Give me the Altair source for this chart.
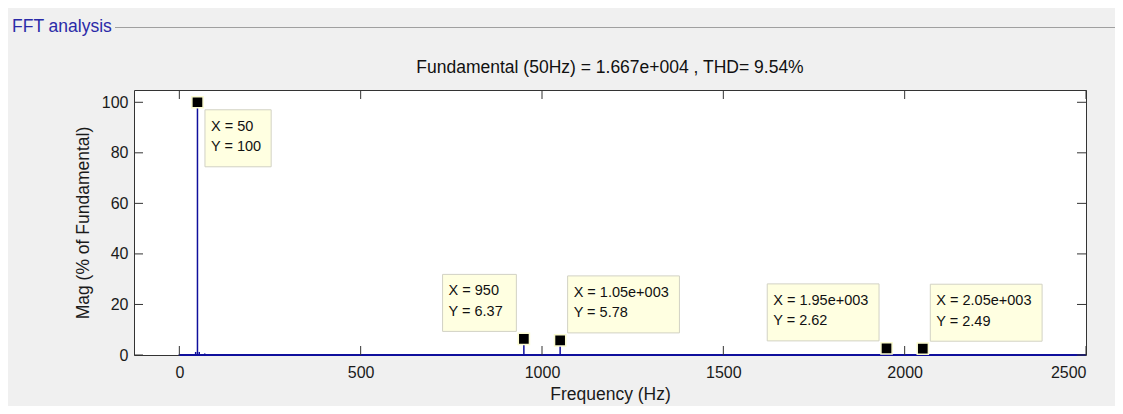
import altair as alt
import pandas as pd

# ---------------- data ----------------
freqs = [0, 45, 50, 55, 70, 950, 1050, 1950, 2050]
mags = [0.3, 1.2, 100, 1.2, 0.6, 6.37, 5.78, 2.62, 2.49]
baseline_start = [0]
baseline_end = [2500]

tip_freq = [50, 950, 1050, 1950, 2050]
tip_mag = [100, 6.37, 5.78, 2.62, 2.49]
tip_xlabel = ["50", "950", "1.05e+003", "1.95e+003", "2.05e+003"]
tip_ylabel = ["100", "6.37", "5.78", "2.62", "2.49"]
tip_side = ["right-below", "left-above", "right-above", "left-above", "right-above"]

x_ticks = [0, 500, 1000, 1500, 2000, 2500]
y_ticks = [0, 20, 40, 60, 80, 100]
x_domain = [-125, 2500]
y_domain = [0, 104.86]

title_text = "Fundamental (50Hz) = 1.667e+004 , THD= 9.54%"
panel_text = "FFT analysis"

# ---------------- layout / style ----------------
W, H = 952, 265
FONT = "Liberation Sans"
BLUE = "#0f0f9c"
TICK = 9

xs = alt.Scale(domain=x_domain, nice=False, zero=False)
ys = alt.Scale(domain=y_domain, nice=False, zero=False)

spec_df = pd.DataFrame({"freq": freqs, "mag": mags})
base_df = pd.DataFrame({"f0": baseline_start, "f1": baseline_end})
xt_df = pd.DataFrame({"t": x_ticks})
yt_df = pd.DataFrame({"t": y_ticks})

x_axis = alt.Axis(values=x_ticks, format="d", ticks=False, tickSize=0, domain=False, grid=False,
                  labelFont=FONT, labelFontSize=16, labelColor="#1a1a1a", labelPadding=9,
                  title="Frequency (Hz)", titleFont=FONT, titleFontSize=17.5,
                  titleFontWeight="normal", titleColor="#1a1a1a", titlePadding=5)
y_axis = alt.Axis(values=y_ticks, format="d", ticks=False, tickSize=0, domain=False, grid=False,
                  labelFont=FONT, labelFontSize=16, labelColor="#1a1a1a", labelPadding=6,
                  title="Mag (% of Fundamental)", titleFont=FONT, titleFontSize=17.5,
                  titleFontWeight="normal", titleColor="#1a1a1a", titlePadding=9)

spikes = alt.Chart(spec_df).mark_rule(color=BLUE, strokeWidth=1.5).encode(
    x=alt.X("freq:Q", scale=xs, axis=x_axis),
    y=alt.Y("mag:Q", scale=ys, axis=y_axis),
    y2=alt.datum(0),
)

baseline = alt.Chart(base_df).mark_rule(color=BLUE, strokeWidth=2).encode(
    x=alt.X("f0:Q", scale=xs),
    x2="f1:Q",
    y=alt.datum(0),
)

tick_color = "#333333"
bottom_ticks = alt.Chart(xt_df).mark_rule(color=tick_color, strokeWidth=1).encode(
    x=alt.X("t:Q", scale=xs), y=alt.value(H), y2=alt.value(H - TICK))
top_ticks = alt.Chart(xt_df).mark_rule(color=tick_color, strokeWidth=1).encode(
    x=alt.X("t:Q", scale=xs), y=alt.value(0), y2=alt.value(TICK))
left_ticks = alt.Chart(yt_df).mark_rule(color=tick_color, strokeWidth=1).encode(
    y=alt.Y("t:Q", scale=ys), x=alt.value(0), x2=alt.value(TICK))
right_ticks = alt.Chart(yt_df).mark_rule(color=tick_color, strokeWidth=1).encode(
    y=alt.Y("t:Q", scale=ys), x=alt.value(W - TICK), x2=alt.value(W))

layers = [spikes, baseline, bottom_ticks, top_ticks, left_ticks, right_ticks]

# data tips
BOX_H = 57
GAP = 7.5
for f, m, xl, yl, side in zip(tip_freq, tip_mag, tip_xlabel, tip_ylabel, tip_side):
    l1 = "X = " + xl
    l2 = "Y = " + yl
    bw = 13 + 7.6 * max(len(l1), len(l2))
    if side.startswith("right"):
        x0, x1 = GAP, GAP + bw
    else:
        x0, x1 = -GAP - bw, -GAP
    if side.endswith("below"):
        y0, y1 = GAP, GAP + BOX_H
    else:
        y0, y1 = -GAP - BOX_H, -GAP
    df = pd.DataFrame({"freq": [f], "mag": [m], "label": [l1 + "\n" + l2]})
    box = alt.Chart(df).mark_rect(
        fill="#ffffe1", stroke="#d2d2c4", strokeWidth=1,
        xOffset=x0, x2Offset=x1, yOffset=y0, y2Offset=y1,
    ).encode(
        x=alt.X("freq:Q", scale=xs), x2="freq:Q",
        y=alt.Y("mag:Q", scale=ys), y2="mag:Q",
    )
    txt = alt.Chart(df).mark_text(
        align="left", baseline="top", font=FONT, fontSize=14.5, color="#111111",
        lineBreak="\n", lineHeight=20.5, dx=x0 + 6, dy=y0 + 10,
    ).encode(
        x=alt.X("freq:Q", scale=xs), y=alt.Y("mag:Q", scale=ys), text="label:N",
    )
    layers += [box, txt]

tip_df = pd.DataFrame({"freq": tip_freq, "mag": tip_mag})
markers = alt.Chart(tip_df).mark_square(
    size=125, color="black", filled=True, opacity=1, stroke="#fbfbd0", strokeWidth=1.5
).encode(x=alt.X("freq:Q", scale=xs), y=alt.Y("mag:Q", scale=ys))
layers.append(markers)

# title and panel header
title = alt.Chart(pd.DataFrame({"t": [title_text]})).mark_text(
    align="center", baseline="middle", font=FONT, fontSize=17.5, color="#111111"
).encode(x=alt.value(W / 2), y=alt.value(-22), text="t:N")

panel_label = alt.Chart(pd.DataFrame({"t": [panel_text]})).mark_text(
    align="left", baseline="middle", font=FONT, fontSize=17.5, color="#2a2aa8"
).encode(x=alt.value(-122), y=alt.value(-63), text="t:N")

panel_line = alt.Chart(pd.DataFrame({"t": [panel_text]})).mark_rule(
    color="#a0a0a0", strokeWidth=1
).encode(x=alt.value(-19), x2=alt.value(1000), y=alt.value(-62.5))

layers += [title, panel_label, panel_line]

chart = alt.layer(*layers).properties(
    width=W, height=H,
    autosize=alt.AutoSizeParams(type="none"),
    padding={"left": 126, "top": 82, "right": 29, "bottom": 51},
    background="#f0f0f0",
).configure_view(
    stroke="#333333", strokeWidth=1, fill="white"
)

chart.save("out.html", embed_options={"renderer": "svg", "actions": False})
